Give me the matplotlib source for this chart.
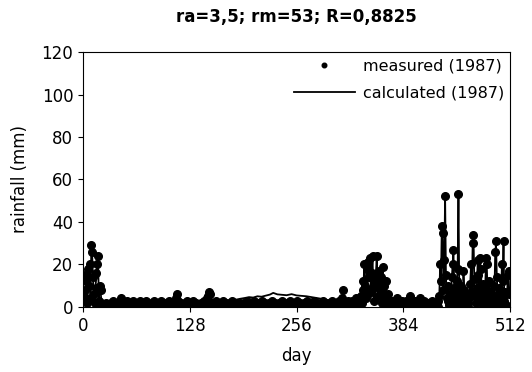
import numpy as np
import matplotlib
matplotlib.use("Agg")
import matplotlib.pyplot as plt

# --- datos medidos (mm por dia, dias 0..511) ---
measured_mm = [
    15, 5, 3, 8, 12, 2, 18, 10, 20, 4, 29, 26, 14, 6, 2, 9,
    16, 20, 24, 3, 10, 8, 2, 1, 0, 1, 0, 2, 0, 1, 0, 0,
    1, 2, 0, 0, 3, 1, 0, 2, 1, 0, 0, 1, 2, 0, 4, 3,
    1, 0, 2, 0, 1, 3, 0, 0, 2, 1, 0, 0, 3, 2, 0, 1,
    0, 2, 1, 0, 3, 0, 1, 0, 2, 0, 0, 3, 1, 0, 2, 0,
    1, 0, 0, 2, 1, 3, 0, 0, 1, 2, 0, 0, 1, 0, 3, 2,
    0, 1, 0, 0, 2, 1, 0, 3, 0, 1, 2, 0, 0, 1, 0, 2,
    4, 6, 3, 1, 0, 2, 0, 1, 0, 0, 2, 1, 0, 3, 0, 1,
    2, 0, 0, 1, 3, 0, 1, 0, 2, 0, 0, 1, 0, 2, 1, 0,
    0, 3, 1, 0, 2, 4, 5, 7, 6, 2, 0, 1, 0, 2, 0, 1,
    3, 0, 1, 0, 0, 2, 1, 0, 3, 0, 1, 2, 0, 0, 1, 0,
    2, 0, 1, 3, 0, 0, 1, 2, 0, 1, 0, 0, 2, 1, 0, 1,
    0, 2, 0, 1, 3, 0, 0, 1, 0, 2, 1, 0, 0, 3, 1, 0,
    1, 0, 2, 0, 0, 1, 3, 0, 1, 0, 2, 0, 1, 0, 0, 2,
    0, 1, 0, 3, 1, 0, 2, 0, 0, 1, 0, 2, 1, 0, 3, 0,
    1, 0, 2, 0, 1, 0, 0, 2, 3, 0, 1, 0, 2, 0, 0, 1,
    0, 3, 1, 0, 2, 0, 1, 0, 0, 2, 1, 0, 3, 0, 1, 0,
    2, 0, 0, 1, 0, 3, 1, 0, 2, 0, 1, 0, 0, 2, 0, 1,
    3, 0, 1, 2, 0, 0, 1, 0, 2, 1, 0, 3, 0, 1, 0, 2,
    1, 0, 2, 3, 1, 0, 4, 2, 8, 1, 0, 2, 0, 1, 3, 0,
    1, 2, 0, 3, 1, 0, 2, 4, 1, 0, 3, 2, 1, 5, 2, 12,
    8, 20, 10, 4, 18, 6, 21, 14, 23, 7, 16, 24, 9, 3, 12, 15,
    24, 11, 5, 17, 8, 14, 2, 19, 6, 10, 3, 12, 4, 1, 6, 2,
    0, 1, 3, 0, 2, 1, 0, 2, 4, 1, 0, 2, 0, 1, 3, 0,
    2, 1, 0, 3, 0, 1, 2, 0, 5, 1, 0, 2, 1, 0, 3, 2,
    0, 1, 2, 0, 4, 1, 0, 2, 0, 3, 1, 0, 2, 1, 0, 2,
    1, 0, 3, 0, 1, 0, 2, 0, 1, 3, 0, 5, 20, 12, 38, 35,
    8, 22, 52, 15, 4, 10, 3, 1, 6, 2, 14, 20, 27, 9, 4, 1,
    12, 18, 53, 7, 2, 10, 5, 0, 17, 8, 3, 1, 6, 2, 0, 4,
    11, 20, 7, 30, 34, 13, 5, 2, 9, 22, 15, 4, 23, 18, 6, 1,
    11, 3, 8, 23, 20, 5, 2, 12, 7, 1, 4, 0, 10, 3, 26, 31,
    14, 6, 2, 9, 5, 1, 20, 12, 31, 3, 7, 1, 0, 15, 17, 6,
]

# --- datos calculados ---
# tramo lluvioso inicial (dias 0..23)
calc_a = [14, 6, 3, 7, 12, 3, 17, 10, 19, 5, 28, 25, 13, 6, 3, 9,
          15, 19, 23, 4, 10, 8, 3, 2]
# tramo seco (dias 24..334), puntos de la curva
calc_dry1_days = [24, 30, 36, 44, 52, 60, 68, 76, 84, 92,
                  100, 108, 113, 120, 128, 136, 144, 151, 158, 166,
                  174, 182, 188, 194, 199, 204, 209, 214, 219, 224,
                  228, 233, 238, 244, 250, 256, 262, 268, 274, 280,
                  286, 292, 298, 304, 312, 318, 324, 330, 334]
calc_dry1_mm = [2, 1.5, 1.8, 1.4, 2.0, 1.6, 1.8, 1.5, 1.9, 1.6,
                2.0, 1.7, 3.5, 2.2, 2.0, 2.3, 2.2, 4.5, 2.6, 2.8,
                3.0, 3.3, 3.8, 4.2, 4.6, 4.4, 5.0, 4.8, 5.3, 5.8,
                6.6, 5.9, 5.7, 5.5, 6.0, 5.4, 5.2, 5.0, 4.6, 4.2,
                3.8, 3.3, 2.9, 2.5, 5.5, 2.2, 2.6, 3.0, 4.0]
# segundo tramo lluvioso (dias 335..367)
calc_b = [11, 8, 19, 10, 4, 17, 6, 20, 14, 22, 7, 16, 23, 9, 3, 12, 15,
          23, 11, 5, 16, 8, 13, 3, 18, 6, 10, 3, 11, 4, 2, 5, 2]
# segundo tramo seco (dias 368..424)
calc_dry2_days = [368, 376, 384, 392, 400, 408, 416, 424]
calc_dry2_mm = [2.0, 1.8, 1.6, 2.5, 1.8, 2.0, 1.7, 1.5]
# tramo lluvioso final (dias 425..511)
calc_c = [3, 1, 5, 19, 12, 37, 34,
          8, 21, 52, 15, 5, 10, 3, 2, 6, 3, 13, 20, 26, 9, 4, 2,
          12, 17, 53, 7, 3, 10, 5, 1, 16, 8, 3, 2, 6, 2, 1, 4,
          10, 19, 7, 29, 33, 13, 5, 3, 9, 21, 15, 4, 22, 17, 6, 2,
          10, 3, 8, 22, 19, 5, 2, 12, 7, 2, 4, 1, 10, 3, 25, 30,
          14, 6, 3, 9, 5, 2, 19, 12, 30, 3, 7, 2, 1, 14, 16, 6]

days = np.arange(len(measured_mm))
calc_days = (list(range(0, 24)) + calc_dry1_days + list(range(335, 368))
             + calc_dry2_days + list(range(425, 512)))
calc_mm = calc_a + calc_dry1_mm + calc_b + calc_dry2_mm + calc_c

fig = plt.figure(figsize=(5.32, 3.72), dpi=100)
ax = fig.add_axes([0.156, 0.175, 0.803, 0.685])

ax.plot(days, measured_mm, 'o', color='black', markersize=5.5, label='measured (1987)')
ax.plot(calc_days, calc_mm, '-', color='black', linewidth=1.3, label='calculated (1987)')

ax.set_xlim(0, 512)
ax.set_ylim(0, 120)
ax.set_xticks([0, 128, 256, 384, 512])
ax.set_yticks(range(0, 121, 20))
ax.tick_params(labelsize=12)
ax.set_xlabel('day', fontsize=12, labelpad=9)
ax.set_ylabel('rainfall (mm)', fontsize=12, labelpad=9)
ax.set_title('ra=3,5; rm=53; R=0,8825', fontsize=12, fontweight='bold', pad=22)
ax.legend(loc='upper right', frameon=False, fontsize=11.5, handlelength=3.8,
          handletextpad=0.5, markerscale=0.6, borderaxespad=0.0, labelspacing=0.75)

fig.savefig('out.png', dpi=100)
